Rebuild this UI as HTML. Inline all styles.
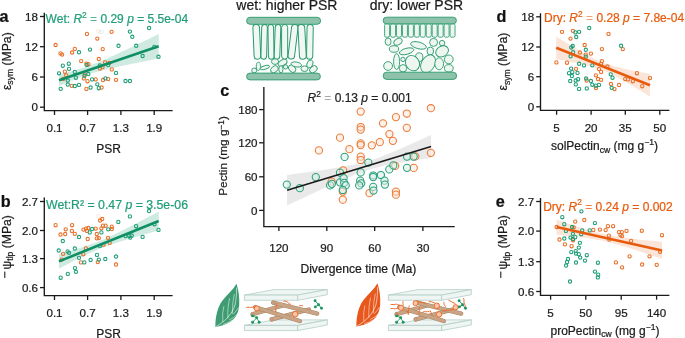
<!DOCTYPE html><html><head><meta charset="utf-8"><style>html,body{margin:0;padding:0;background:#fff;width:685px;height:338px;overflow:hidden}svg{display:block;will-change:transform}text{font-family:"Liberation Sans",sans-serif;stroke-width:0.22px;paint-order:stroke}</style></head><body>
<svg width="685" height="338" viewBox="0 0 685 338" font-family="Liberation Sans, sans-serif">
<rect width="685" height="338" fill="#fff"/>
<text x="-0.6" y="22" font-size="16.2" font-weight="bold" fill="#111" stroke="#111">a</text>
<text x="0.8" y="206.8" font-size="16.2" font-weight="bold" fill="#111" stroke="#111">b</text>
<text x="220.3" y="96.2" font-size="16.2" font-weight="bold" fill="#111" stroke="#111">c</text>
<text x="496.5" y="22" font-size="16.2" font-weight="bold" fill="#111" stroke="#111">d</text>
<text x="495.8" y="206.8" font-size="16.2" font-weight="bold" fill="#111" stroke="#111">e</text>
<path d="M59.00,74.37 L61.49,73.79 L63.98,73.19 L66.48,72.57 L68.97,71.93 L71.46,71.27 L73.95,70.58 L76.45,69.86 L78.94,69.12 L81.43,68.34 L83.92,67.52 L86.42,66.67 L88.91,65.79 L91.40,64.87 L93.89,63.91 L96.39,62.93 L98.88,61.92 L101.37,60.88 L103.86,59.82 L106.36,58.75 L108.85,57.65 L111.34,56.54 L113.83,55.42 L116.33,54.28 L118.82,53.14 L121.31,51.98 L123.80,50.82 L126.30,49.65 L128.79,48.48 L131.28,47.30 L133.77,46.12 L136.27,44.93 L138.76,43.74 L141.25,42.54 L143.75,41.34 L146.24,40.14 L148.73,38.94 L151.22,37.74 L153.71,36.53 L156.21,35.32 L158.70,34.11 L158.70,58.49 L156.21,58.97 L153.71,59.46 L151.22,59.95 L148.73,60.44 L146.24,60.93 L143.75,61.43 L141.25,61.92 L138.76,62.42 L136.27,62.93 L133.77,63.43 L131.28,63.94 L128.79,64.46 L126.30,64.98 L123.80,65.51 L121.31,66.04 L118.82,66.58 L116.33,67.13 L113.83,67.69 L111.34,68.26 L108.85,68.85 L106.36,69.45 L103.86,70.07 L101.37,70.70 L98.88,71.36 L96.39,72.04 L93.89,72.76 L91.40,73.50 L88.91,74.27 L86.42,75.08 L83.92,75.93 L81.43,76.81 L78.94,77.72 L76.45,78.67 L73.95,79.65 L71.46,80.66 L68.97,81.69 L66.48,82.75 L63.98,83.82 L61.49,84.92 L59.00,86.03Z" fill="#1f9e78" fill-opacity="0.22"/>
<circle cx="86.9" cy="33.9" r="1.65" fill="none" stroke="#e8702a" stroke-width="1.05"/>
<circle cx="111.6" cy="31.8" r="1.65" fill="none" stroke="#e8702a" stroke-width="1.05"/>
<circle cx="97.3" cy="38.6" r="1.65" fill="none" stroke="#e8702a" stroke-width="1.05"/>
<circle cx="55.6" cy="45" r="1.65" fill="none" stroke="#e8702a" stroke-width="1.05"/>
<circle cx="74.8" cy="48.9" r="1.65" fill="none" stroke="#e8702a" stroke-width="1.05"/>
<circle cx="72.1" cy="52.5" r="1.65" fill="none" stroke="#e8702a" stroke-width="1.05"/>
<circle cx="102.7" cy="49.1" r="1.65" fill="none" stroke="#e8702a" stroke-width="1.05"/>
<circle cx="60.5" cy="53.4" r="1.65" fill="none" stroke="#e8702a" stroke-width="1.05"/>
<circle cx="62.1" cy="54.6" r="1.65" fill="none" stroke="#e8702a" stroke-width="1.05"/>
<circle cx="98.8" cy="59" r="1.65" fill="none" stroke="#e8702a" stroke-width="1.05"/>
<circle cx="81.2" cy="61.1" r="1.65" fill="none" stroke="#e8702a" stroke-width="1.05"/>
<circle cx="86.4" cy="63.6" r="1.65" fill="none" stroke="#e8702a" stroke-width="1.05"/>
<circle cx="88.5" cy="64.2" r="1.65" fill="none" stroke="#e8702a" stroke-width="1.05"/>
<circle cx="64.9" cy="71.7" r="1.65" fill="none" stroke="#e8702a" stroke-width="1.05"/>
<circle cx="66.2" cy="75.3" r="1.65" fill="none" stroke="#e8702a" stroke-width="1.05"/>
<circle cx="99.9" cy="68.6" r="1.65" fill="none" stroke="#e8702a" stroke-width="1.05"/>
<circle cx="102.5" cy="67" r="1.65" fill="none" stroke="#e8702a" stroke-width="1.05"/>
<circle cx="105.1" cy="62.4" r="1.65" fill="none" stroke="#e8702a" stroke-width="1.05"/>
<circle cx="109.2" cy="62.9" r="1.65" fill="none" stroke="#e8702a" stroke-width="1.05"/>
<circle cx="111.8" cy="69.4" r="1.65" fill="none" stroke="#e8702a" stroke-width="1.05"/>
<circle cx="83.8" cy="78.4" r="1.65" fill="none" stroke="#e8702a" stroke-width="1.05"/>
<circle cx="84.9" cy="74.6" r="1.65" fill="none" stroke="#e8702a" stroke-width="1.05"/>
<circle cx="87.5" cy="81.2" r="1.65" fill="none" stroke="#e8702a" stroke-width="1.05"/>
<circle cx="95.7" cy="79.4" r="1.65" fill="none" stroke="#e8702a" stroke-width="1.05"/>
<circle cx="103" cy="80" r="1.65" fill="none" stroke="#e8702a" stroke-width="1.05"/>
<circle cx="108.2" cy="79.1" r="1.65" fill="none" stroke="#e8702a" stroke-width="1.05"/>
<circle cx="71.7" cy="85.8" r="1.65" fill="none" stroke="#e8702a" stroke-width="1.05"/>
<circle cx="101.6" cy="87.5" r="1.65" fill="none" stroke="#e8702a" stroke-width="1.05"/>
<circle cx="116" cy="79.8" r="1.65" fill="none" stroke="#e8702a" stroke-width="1.05"/>
<circle cx="86.4" cy="88.9" r="1.65" fill="none" stroke="#e8702a" stroke-width="1.05"/>
<circle cx="63.1" cy="78.9" r="1.65" fill="none" stroke="#e8702a" stroke-width="1.05"/>
<circle cx="79" cy="52.3" r="1.65" fill="none" stroke="#1f9e78" stroke-width="1.05"/>
<circle cx="90" cy="49.6" r="1.65" fill="none" stroke="#1f9e78" stroke-width="1.05"/>
<circle cx="129.9" cy="31.6" r="1.65" fill="none" stroke="#1f9e78" stroke-width="1.05"/>
<circle cx="149.1" cy="28" r="1.65" fill="none" stroke="#1f9e78" stroke-width="1.05"/>
<circle cx="132.3" cy="36.8" r="1.65" fill="none" stroke="#1f9e78" stroke-width="1.05"/>
<circle cx="118.5" cy="45.8" r="1.65" fill="none" stroke="#1f9e78" stroke-width="1.05"/>
<circle cx="136.2" cy="45.8" r="1.65" fill="none" stroke="#1f9e78" stroke-width="1.05"/>
<circle cx="154.3" cy="46.9" r="1.65" fill="none" stroke="#1f9e78" stroke-width="1.05"/>
<circle cx="142.6" cy="56" r="1.65" fill="none" stroke="#1f9e78" stroke-width="1.05"/>
<circle cx="158.5" cy="56.8" r="1.65" fill="none" stroke="#1f9e78" stroke-width="1.05"/>
<circle cx="86.7" cy="64.9" r="1.65" fill="none" stroke="#1f9e78" stroke-width="1.05"/>
<circle cx="62.8" cy="65.7" r="1.65" fill="none" stroke="#1f9e78" stroke-width="1.05"/>
<circle cx="68.8" cy="63.7" r="1.65" fill="none" stroke="#1f9e78" stroke-width="1.05"/>
<circle cx="69" cy="68.8" r="1.65" fill="none" stroke="#1f9e78" stroke-width="1.05"/>
<circle cx="59" cy="73.3" r="1.65" fill="none" stroke="#1f9e78" stroke-width="1.05"/>
<circle cx="74.8" cy="71.9" r="1.65" fill="none" stroke="#1f9e78" stroke-width="1.05"/>
<circle cx="75.9" cy="77.7" r="1.65" fill="none" stroke="#1f9e78" stroke-width="1.05"/>
<circle cx="99.9" cy="65.5" r="1.65" fill="none" stroke="#1f9e78" stroke-width="1.05"/>
<circle cx="108.2" cy="65" r="1.65" fill="none" stroke="#1f9e78" stroke-width="1.05"/>
<circle cx="84.4" cy="75.8" r="1.65" fill="none" stroke="#1f9e78" stroke-width="1.05"/>
<circle cx="88.3" cy="74" r="1.65" fill="none" stroke="#1f9e78" stroke-width="1.05"/>
<circle cx="92.1" cy="79.4" r="1.65" fill="none" stroke="#1f9e78" stroke-width="1.05"/>
<circle cx="105.4" cy="78.4" r="1.65" fill="none" stroke="#1f9e78" stroke-width="1.05"/>
<circle cx="67.8" cy="80.5" r="1.65" fill="none" stroke="#1f9e78" stroke-width="1.05"/>
<circle cx="67.8" cy="84.5" r="1.65" fill="none" stroke="#1f9e78" stroke-width="1.05"/>
<circle cx="74.8" cy="86" r="1.65" fill="none" stroke="#1f9e78" stroke-width="1.05"/>
<circle cx="79" cy="84.9" r="1.65" fill="none" stroke="#1f9e78" stroke-width="1.05"/>
<circle cx="97.3" cy="84.3" r="1.65" fill="none" stroke="#1f9e78" stroke-width="1.05"/>
<circle cx="90.6" cy="87.5" r="1.65" fill="none" stroke="#1f9e78" stroke-width="1.05"/>
<circle cx="60.7" cy="88.8" r="1.65" fill="none" stroke="#1f9e78" stroke-width="1.05"/>
<circle cx="98.8" cy="88.2" r="1.65" fill="none" stroke="#1f9e78" stroke-width="1.05"/>
<circle cx="116" cy="72.9" r="1.65" fill="none" stroke="#1f9e78" stroke-width="1.05"/>
<circle cx="125.5" cy="81" r="1.65" fill="none" stroke="#1f9e78" stroke-width="1.05"/>
<circle cx="129.9" cy="81" r="1.65" fill="none" stroke="#1f9e78" stroke-width="1.05"/>
<circle cx="98.3" cy="31.1" r="1.7" fill="none" stroke="#e8702a" stroke-opacity="0.12" stroke-width="1.2"/>
<circle cx="101.4" cy="32.1" r="1.7" fill="none" stroke="#1f9e78" stroke-opacity="0.12" stroke-width="1.2"/>
<path d="M59,80.2 L158.7,46.3" stroke="#0f8f64" stroke-width="2.6" stroke-linecap="butt"/>
<path d="M44.3,12.7 V110.55 H172.6" fill="none" stroke="#1a1a1a" stroke-width="1.35"/>
<path d="M40.0,16.5 H44.3" stroke="#1a1a1a" stroke-width="1.3"/>
<text x="38.0" y="20.7" text-anchor="end" font-size="11.6" fill="#1a1a1a" stroke="#1a1a1a">18</text>
<path d="M40.0,46.7 H44.3" stroke="#1a1a1a" stroke-width="1.3"/>
<text x="38.0" y="50.900000000000006" text-anchor="end" font-size="11.6" fill="#1a1a1a" stroke="#1a1a1a">12</text>
<path d="M40.0,77 H44.3" stroke="#1a1a1a" stroke-width="1.3"/>
<text x="38.0" y="81.2" text-anchor="end" font-size="11.6" fill="#1a1a1a" stroke="#1a1a1a">6</text>
<path d="M40.0,107.2 H44.3" stroke="#1a1a1a" stroke-width="1.3"/>
<text x="38.0" y="111.4" text-anchor="end" font-size="11.6" fill="#1a1a1a" stroke="#1a1a1a">0</text>
<path d="M54.5,110.55 V114.95" stroke="#1a1a1a" stroke-width="1.3"/>
<text x="54.5" y="131.75" text-anchor="middle" font-size="11.6" fill="#1a1a1a" stroke="#1a1a1a">0.1</text>
<path d="M87.6,110.55 V114.95" stroke="#1a1a1a" stroke-width="1.3"/>
<text x="87.6" y="131.75" text-anchor="middle" font-size="11.6" fill="#1a1a1a" stroke="#1a1a1a">0.7</text>
<path d="M120.9,110.55 V114.95" stroke="#1a1a1a" stroke-width="1.3"/>
<text x="120.9" y="131.75" text-anchor="middle" font-size="11.6" fill="#1a1a1a" stroke="#1a1a1a">1.3</text>
<path d="M154.2,110.55 V114.95" stroke="#1a1a1a" stroke-width="1.3"/>
<text x="154.2" y="131.75" text-anchor="middle" font-size="11.6" fill="#1a1a1a" stroke="#1a1a1a">1.9</text>
<text x="45.6" y="22.8" font-size="12" fill="#1f9e78" stroke="#1f9e78">Wet: <tspan font-style="italic">R</tspan><tspan font-size="8.4" dy="-5.2">2</tspan><tspan dy="5.2" fill-opacity="0.75" stroke-opacity="0.2"> = </tspan>0.29 <tspan font-style="italic">p</tspan> = 5.5e-04</text>
<text x="108.7" y="152.5" text-anchor="middle" font-size="12" fill="#1a1a1a" stroke="#1a1a1a">PSR</text>
<text transform="translate(10.5,61.2) rotate(-90)" text-anchor="middle" font-size="12.2" fill="#1a1a1a" stroke="#1a1a1a">ε<tspan font-size="8.6" dy="2.6">sym</tspan><tspan dy="-2.6"> (MPa)</tspan></text>
<path d="M59.00,254.18 L61.49,253.47 L63.98,252.76 L66.48,252.03 L68.97,251.30 L71.46,250.56 L73.95,249.81 L76.45,249.05 L78.94,248.27 L81.43,247.47 L83.92,246.66 L86.42,245.82 L88.91,244.96 L91.40,244.08 L93.89,243.16 L96.39,242.22 L98.88,241.24 L101.37,240.22 L103.86,239.18 L106.36,238.10 L108.85,236.99 L111.34,235.86 L113.83,234.69 L116.33,233.51 L118.82,232.30 L121.31,231.07 L123.80,229.83 L126.30,228.57 L128.79,227.30 L131.28,226.02 L133.77,224.73 L136.27,223.44 L138.76,222.13 L141.25,220.82 L143.75,219.50 L146.24,218.18 L148.73,216.85 L151.22,215.52 L153.71,214.19 L156.21,212.85 L158.70,211.51 L158.70,230.49 L156.21,231.17 L153.71,231.85 L151.22,232.54 L148.73,233.23 L146.24,233.92 L143.75,234.62 L141.25,235.32 L138.76,236.03 L136.27,236.74 L133.77,237.47 L131.28,238.20 L128.79,238.94 L126.30,239.69 L123.80,240.45 L121.31,241.23 L118.82,242.02 L116.33,242.83 L113.83,243.67 L111.34,244.52 L108.85,245.41 L106.36,246.32 L103.86,247.26 L101.37,248.24 L98.88,249.24 L96.39,250.28 L93.89,251.36 L91.40,252.46 L88.91,253.60 L86.42,254.76 L83.92,255.94 L81.43,257.15 L78.94,258.37 L76.45,259.61 L73.95,260.87 L71.46,262.14 L68.97,263.42 L66.48,264.71 L63.98,266.00 L61.49,267.31 L59.00,268.62Z" fill="#1f9e78" fill-opacity="0.22"/>
<circle cx="102.2" cy="219" r="1.65" fill="none" stroke="#e8702a" stroke-width="1.05"/>
<circle cx="100.1" cy="220.5" r="1.65" fill="none" stroke="#e8702a" stroke-width="1.05"/>
<circle cx="55.6" cy="225.2" r="1.65" fill="none" stroke="#e8702a" stroke-width="1.05"/>
<circle cx="72.1" cy="225.2" r="1.65" fill="none" stroke="#e8702a" stroke-width="1.05"/>
<circle cx="65.7" cy="229.3" r="1.65" fill="none" stroke="#e8702a" stroke-width="1.05"/>
<circle cx="60.5" cy="234.5" r="1.65" fill="none" stroke="#e8702a" stroke-width="1.05"/>
<circle cx="65.2" cy="234" r="1.65" fill="none" stroke="#e8702a" stroke-width="1.05"/>
<circle cx="71.9" cy="230.9" r="1.65" fill="none" stroke="#e8702a" stroke-width="1.05"/>
<circle cx="74.8" cy="233.8" r="1.65" fill="none" stroke="#e8702a" stroke-width="1.05"/>
<circle cx="83.5" cy="229.6" r="1.65" fill="none" stroke="#e8702a" stroke-width="1.05"/>
<circle cx="85.9" cy="228.6" r="1.65" fill="none" stroke="#e8702a" stroke-width="1.05"/>
<circle cx="88.3" cy="228" r="1.65" fill="none" stroke="#e8702a" stroke-width="1.05"/>
<circle cx="86.9" cy="230.9" r="1.65" fill="none" stroke="#e8702a" stroke-width="1.05"/>
<circle cx="95.7" cy="228.6" r="1.65" fill="none" stroke="#e8702a" stroke-width="1.05"/>
<circle cx="96.8" cy="234" r="1.65" fill="none" stroke="#e8702a" stroke-width="1.05"/>
<circle cx="101.4" cy="228.3" r="1.65" fill="none" stroke="#e8702a" stroke-width="1.05"/>
<circle cx="103" cy="225.7" r="1.65" fill="none" stroke="#e8702a" stroke-width="1.05"/>
<circle cx="105.6" cy="225.7" r="1.65" fill="none" stroke="#e8702a" stroke-width="1.05"/>
<circle cx="111.8" cy="226.7" r="1.65" fill="none" stroke="#e8702a" stroke-width="1.05"/>
<circle cx="111.8" cy="229" r="1.65" fill="none" stroke="#e8702a" stroke-width="1.05"/>
<circle cx="87.7" cy="239" r="1.65" fill="none" stroke="#e8702a" stroke-width="1.05"/>
<circle cx="96.8" cy="238.3" r="1.65" fill="none" stroke="#e8702a" stroke-width="1.05"/>
<circle cx="98.8" cy="238.1" r="1.65" fill="none" stroke="#e8702a" stroke-width="1.05"/>
<circle cx="108" cy="237.8" r="1.65" fill="none" stroke="#e8702a" stroke-width="1.05"/>
<circle cx="109.7" cy="242.8" r="1.65" fill="none" stroke="#e8702a" stroke-width="1.05"/>
<circle cx="103.5" cy="244.8" r="1.65" fill="none" stroke="#e8702a" stroke-width="1.05"/>
<circle cx="63.1" cy="253.8" r="1.65" fill="none" stroke="#e8702a" stroke-width="1.05"/>
<circle cx="85.9" cy="248.3" r="1.65" fill="none" stroke="#e8702a" stroke-width="1.05"/>
<circle cx="83.3" cy="254.2" r="1.65" fill="none" stroke="#e8702a" stroke-width="1.05"/>
<circle cx="61.6" cy="259.6" r="1.65" fill="none" stroke="#e8702a" stroke-width="1.05"/>
<circle cx="97.8" cy="262.1" r="1.65" fill="none" stroke="#e8702a" stroke-width="1.05"/>
<circle cx="81" cy="262.4" r="1.65" fill="none" stroke="#e8702a" stroke-width="1.05"/>
<circle cx="116" cy="264.5" r="1.65" fill="none" stroke="#e8702a" stroke-width="1.05"/>
<circle cx="79" cy="237" r="1.65" fill="none" stroke="#1f9e78" stroke-width="1.05"/>
<circle cx="92.1" cy="229" r="1.65" fill="none" stroke="#1f9e78" stroke-width="1.05"/>
<circle cx="89.7" cy="232.4" r="1.65" fill="none" stroke="#1f9e78" stroke-width="1.05"/>
<circle cx="101.4" cy="232.4" r="1.65" fill="none" stroke="#1f9e78" stroke-width="1.05"/>
<circle cx="108.2" cy="229.3" r="1.65" fill="none" stroke="#1f9e78" stroke-width="1.05"/>
<circle cx="149.1" cy="211" r="1.65" fill="none" stroke="#1f9e78" stroke-width="1.05"/>
<circle cx="129.9" cy="216.4" r="1.65" fill="none" stroke="#1f9e78" stroke-width="1.05"/>
<circle cx="118.3" cy="221.9" r="1.65" fill="none" stroke="#1f9e78" stroke-width="1.05"/>
<circle cx="136.1" cy="226.2" r="1.65" fill="none" stroke="#1f9e78" stroke-width="1.05"/>
<circle cx="154.5" cy="224.2" r="1.65" fill="none" stroke="#1f9e78" stroke-width="1.05"/>
<circle cx="158.5" cy="229.9" r="1.65" fill="none" stroke="#1f9e78" stroke-width="1.05"/>
<circle cx="142.6" cy="236.9" r="1.65" fill="none" stroke="#1f9e78" stroke-width="1.05"/>
<circle cx="129.2" cy="235.9" r="1.65" fill="none" stroke="#1f9e78" stroke-width="1.05"/>
<circle cx="131.7" cy="235.5" r="1.65" fill="none" stroke="#1f9e78" stroke-width="1.05"/>
<circle cx="125.5" cy="236.1" r="1.65" fill="none" stroke="#1f9e78" stroke-width="1.05"/>
<circle cx="130.2" cy="237.6" r="1.65" fill="none" stroke="#1f9e78" stroke-width="1.05"/>
<circle cx="62.8" cy="241" r="1.65" fill="none" stroke="#1f9e78" stroke-width="1.05"/>
<circle cx="99.9" cy="245.9" r="1.65" fill="none" stroke="#1f9e78" stroke-width="1.05"/>
<circle cx="58.7" cy="250.5" r="1.65" fill="none" stroke="#1f9e78" stroke-width="1.05"/>
<circle cx="67.6" cy="251.4" r="1.65" fill="none" stroke="#1f9e78" stroke-width="1.05"/>
<circle cx="69" cy="252.8" r="1.65" fill="none" stroke="#1f9e78" stroke-width="1.05"/>
<circle cx="74.8" cy="248.5" r="1.65" fill="none" stroke="#1f9e78" stroke-width="1.05"/>
<circle cx="79" cy="257.8" r="1.65" fill="none" stroke="#1f9e78" stroke-width="1.05"/>
<circle cx="90.6" cy="259.9" r="1.65" fill="none" stroke="#1f9e78" stroke-width="1.05"/>
<circle cx="97" cy="254.9" r="1.65" fill="none" stroke="#1f9e78" stroke-width="1.05"/>
<circle cx="98.8" cy="259.6" r="1.65" fill="none" stroke="#1f9e78" stroke-width="1.05"/>
<circle cx="105.3" cy="259" r="1.65" fill="none" stroke="#1f9e78" stroke-width="1.05"/>
<circle cx="84.3" cy="262.4" r="1.65" fill="none" stroke="#1f9e78" stroke-width="1.05"/>
<circle cx="75" cy="268.1" r="1.65" fill="none" stroke="#1f9e78" stroke-width="1.05"/>
<circle cx="116" cy="256.5" r="1.65" fill="none" stroke="#1f9e78" stroke-width="1.05"/>
<circle cx="75.9" cy="271.8" r="1.65" fill="none" stroke="#1f9e78" stroke-width="1.05"/>
<circle cx="67.8" cy="273.9" r="1.65" fill="none" stroke="#1f9e78" stroke-width="1.05"/>
<circle cx="60.7" cy="277.7" r="1.65" fill="none" stroke="#1f9e78" stroke-width="1.05"/>
<circle cx="98.3" cy="216.2" r="1.7" fill="none" stroke="#e8702a" stroke-opacity="0.12" stroke-width="1.2"/>
<path d="M59,261.4 L158.7,221.0" stroke="#0f8f64" stroke-width="2.6" stroke-linecap="butt"/>
<path d="M44.3,197.5 V295.6 H172.6" fill="none" stroke="#1a1a1a" stroke-width="1.35"/>
<path d="M40.0,201.5 H44.3" stroke="#1a1a1a" stroke-width="1.3"/>
<text x="38.0" y="205.7" text-anchor="end" font-size="11.6" fill="#1a1a1a" stroke="#1a1a1a">2.7</text>
<path d="M40.0,230.5 H44.3" stroke="#1a1a1a" stroke-width="1.3"/>
<text x="38.0" y="234.7" text-anchor="end" font-size="11.6" fill="#1a1a1a" stroke="#1a1a1a">2.0</text>
<path d="M40.0,258.6 H44.3" stroke="#1a1a1a" stroke-width="1.3"/>
<text x="38.0" y="262.8" text-anchor="end" font-size="11.6" fill="#1a1a1a" stroke="#1a1a1a">1.3</text>
<path d="M40.0,287.6 H44.3" stroke="#1a1a1a" stroke-width="1.3"/>
<text x="38.0" y="291.8" text-anchor="end" font-size="11.6" fill="#1a1a1a" stroke="#1a1a1a">0.6</text>
<path d="M54.5,295.6 V300.0" stroke="#1a1a1a" stroke-width="1.3"/>
<text x="54.5" y="316.8" text-anchor="middle" font-size="11.6" fill="#1a1a1a" stroke="#1a1a1a">0.1</text>
<path d="M87.6,295.6 V300.0" stroke="#1a1a1a" stroke-width="1.3"/>
<text x="87.6" y="316.8" text-anchor="middle" font-size="11.6" fill="#1a1a1a" stroke="#1a1a1a">0.7</text>
<path d="M120.9,295.6 V300.0" stroke="#1a1a1a" stroke-width="1.3"/>
<text x="120.9" y="316.8" text-anchor="middle" font-size="11.6" fill="#1a1a1a" stroke="#1a1a1a">1.3</text>
<path d="M154.2,295.6 V300.0" stroke="#1a1a1a" stroke-width="1.3"/>
<text x="154.2" y="316.8" text-anchor="middle" font-size="11.6" fill="#1a1a1a" stroke="#1a1a1a">1.9</text>
<text x="46.0" y="209" font-size="12.3" fill="#1f9e78" stroke="#1f9e78">Wet:R² = 0.47 <tspan font-style="italic">p</tspan> = 3.5e-06</text>
<text x="108.7" y="337.5" text-anchor="middle" font-size="12" fill="#1a1a1a" stroke="#1a1a1a">PSR</text>
<text transform="translate(10.5,246.8) rotate(-90)" text-anchor="middle" font-size="12.2" fill="#1a1a1a" stroke="#1a1a1a"><tspan dy="-1.9">−</tspan><tspan dy="1.9" font-size="7"> </tspan>ψ<tspan font-size="8.6" dy="2.6">tlp</tspan><tspan dy="-2.6"> (MPa)</tspan></text>
<path d="M556.20,36.60 L558.55,38.02 L560.89,39.44 L563.24,40.85 L565.58,42.27 L567.93,43.67 L570.27,45.07 L572.62,46.46 L574.96,47.84 L577.31,49.21 L579.65,50.57 L582.00,51.92 L584.34,53.24 L586.69,54.54 L589.03,55.81 L591.38,57.05 L593.72,58.25 L596.07,59.40 L598.41,60.50 L600.75,61.53 L603.10,62.50 L605.45,63.40 L607.79,64.23 L610.13,65.00 L612.48,65.71 L614.83,66.38 L617.17,67.01 L619.51,67.60 L621.86,68.17 L624.21,68.71 L626.55,69.24 L628.89,69.75 L631.24,70.25 L633.59,70.73 L635.93,71.21 L638.27,71.68 L640.62,72.15 L642.97,72.60 L645.31,73.06 L647.65,73.51 L650.00,73.96 L650.00,96.44 L647.65,95.02 L645.31,93.60 L642.97,92.19 L640.62,90.77 L638.27,89.37 L635.93,87.97 L633.59,86.58 L631.24,85.19 L628.89,83.82 L626.55,82.46 L624.21,81.12 L621.86,79.79 L619.51,78.49 L617.17,77.21 L614.83,75.97 L612.48,74.77 L610.13,73.61 L607.79,72.51 L605.45,71.47 L603.10,70.50 L600.75,69.60 L598.41,68.76 L596.07,67.99 L593.72,67.27 L591.38,66.60 L589.03,65.97 L586.69,65.37 L584.34,64.80 L582.00,64.25 L579.65,63.73 L577.31,63.22 L574.96,62.72 L572.62,62.23 L570.27,61.75 L567.93,61.28 L565.58,60.81 L563.24,60.36 L560.89,59.90 L558.55,59.45 L556.20,59.00Z" fill="#e85a0c" fill-opacity="0.16"/>
<circle cx="562" cy="31.8" r="1.65" fill="none" stroke="#e8702a" stroke-width="1.05"/>
<circle cx="572.9" cy="30.8" r="1.65" fill="none" stroke="#e8702a" stroke-width="1.05"/>
<circle cx="608.5" cy="33.9" r="1.65" fill="none" stroke="#e8702a" stroke-width="1.05"/>
<circle cx="570.5" cy="38.6" r="1.65" fill="none" stroke="#e8702a" stroke-width="1.05"/>
<circle cx="584.7" cy="45" r="1.65" fill="none" stroke="#e8702a" stroke-width="1.05"/>
<circle cx="601.9" cy="49.1" r="1.65" fill="none" stroke="#e8702a" stroke-width="1.05"/>
<circle cx="579.9" cy="52.5" r="1.65" fill="none" stroke="#e8702a" stroke-width="1.05"/>
<circle cx="590.9" cy="53.6" r="1.65" fill="none" stroke="#e8702a" stroke-width="1.05"/>
<circle cx="585.7" cy="54.6" r="1.65" fill="none" stroke="#e8702a" stroke-width="1.05"/>
<circle cx="622.8" cy="49.1" r="1.65" fill="none" stroke="#e8702a" stroke-width="1.05"/>
<circle cx="556.4" cy="62.4" r="1.65" fill="none" stroke="#e8702a" stroke-width="1.05"/>
<circle cx="567" cy="62.7" r="1.65" fill="none" stroke="#e8702a" stroke-width="1.05"/>
<circle cx="601.9" cy="61.1" r="1.65" fill="none" stroke="#e8702a" stroke-width="1.05"/>
<circle cx="601.1" cy="63.9" r="1.65" fill="none" stroke="#e8702a" stroke-width="1.05"/>
<circle cx="607.5" cy="66.5" r="1.65" fill="none" stroke="#e8702a" stroke-width="1.05"/>
<circle cx="576" cy="68.8" r="1.65" fill="none" stroke="#e8702a" stroke-width="1.05"/>
<circle cx="599" cy="69.1" r="1.65" fill="none" stroke="#e8702a" stroke-width="1.05"/>
<circle cx="601.1" cy="71.9" r="1.65" fill="none" stroke="#e8702a" stroke-width="1.05"/>
<circle cx="595.9" cy="75.3" r="1.65" fill="none" stroke="#e8702a" stroke-width="1.05"/>
<circle cx="598" cy="79" r="1.65" fill="none" stroke="#e8702a" stroke-width="1.05"/>
<circle cx="601.1" cy="79.8" r="1.65" fill="none" stroke="#e8702a" stroke-width="1.05"/>
<circle cx="586.7" cy="80.5" r="1.65" fill="none" stroke="#e8702a" stroke-width="1.05"/>
<circle cx="595.9" cy="87.9" r="1.65" fill="none" stroke="#e8702a" stroke-width="1.05"/>
<circle cx="611" cy="84" r="1.65" fill="none" stroke="#e8702a" stroke-width="1.05"/>
<circle cx="619" cy="85" r="1.65" fill="none" stroke="#e8702a" stroke-width="1.05"/>
<circle cx="625.2" cy="79.1" r="1.65" fill="none" stroke="#e8702a" stroke-width="1.05"/>
<circle cx="628" cy="79.4" r="1.65" fill="none" stroke="#e8702a" stroke-width="1.05"/>
<circle cx="632.8" cy="81.2" r="1.65" fill="none" stroke="#e8702a" stroke-width="1.05"/>
<circle cx="636.9" cy="73.2" r="1.65" fill="none" stroke="#e8702a" stroke-width="1.05"/>
<circle cx="650" cy="78.1" r="1.65" fill="none" stroke="#e8702a" stroke-width="1.05"/>
<circle cx="642.2" cy="86.2" r="1.65" fill="none" stroke="#e8702a" stroke-width="1.05"/>
<circle cx="614.5" cy="89.1" r="1.65" fill="none" stroke="#e8702a" stroke-width="1.05"/>
<circle cx="575.4" cy="32.4" r="1.65" fill="none" stroke="#1f9e78" stroke-width="1.05"/>
<circle cx="579.1" cy="31.8" r="1.65" fill="none" stroke="#1f9e78" stroke-width="1.05"/>
<circle cx="576.2" cy="37" r="1.65" fill="none" stroke="#1f9e78" stroke-width="1.05"/>
<circle cx="589.2" cy="28" r="1.65" fill="none" stroke="#1f9e78" stroke-width="1.05"/>
<circle cx="572.7" cy="46" r="1.65" fill="none" stroke="#1f9e78" stroke-width="1.05"/>
<circle cx="571.3" cy="47.5" r="1.65" fill="none" stroke="#1f9e78" stroke-width="1.05"/>
<circle cx="585.8" cy="49.8" r="1.65" fill="none" stroke="#1f9e78" stroke-width="1.05"/>
<circle cx="573.1" cy="52.3" r="1.65" fill="none" stroke="#1f9e78" stroke-width="1.05"/>
<circle cx="585.8" cy="56.7" r="1.65" fill="none" stroke="#1f9e78" stroke-width="1.05"/>
<circle cx="570.6" cy="56.3" r="1.65" fill="none" stroke="#1f9e78" stroke-width="1.05"/>
<circle cx="621.1" cy="45.8" r="1.65" fill="none" stroke="#1f9e78" stroke-width="1.05"/>
<circle cx="579.1" cy="63.8" r="1.65" fill="none" stroke="#1f9e78" stroke-width="1.05"/>
<circle cx="584" cy="65.4" r="1.65" fill="none" stroke="#1f9e78" stroke-width="1.05"/>
<circle cx="592.3" cy="65.3" r="1.65" fill="none" stroke="#1f9e78" stroke-width="1.05"/>
<circle cx="571.1" cy="68.6" r="1.65" fill="none" stroke="#1f9e78" stroke-width="1.05"/>
<circle cx="569" cy="73.2" r="1.65" fill="none" stroke="#1f9e78" stroke-width="1.05"/>
<circle cx="572.3" cy="72.2" r="1.65" fill="none" stroke="#1f9e78" stroke-width="1.05"/>
<circle cx="571.9" cy="76" r="1.65" fill="none" stroke="#1f9e78" stroke-width="1.05"/>
<circle cx="577.5" cy="72.9" r="1.65" fill="none" stroke="#1f9e78" stroke-width="1.05"/>
<circle cx="586.1" cy="78.5" r="1.65" fill="none" stroke="#1f9e78" stroke-width="1.05"/>
<circle cx="590.9" cy="81" r="1.65" fill="none" stroke="#1f9e78" stroke-width="1.05"/>
<circle cx="570.2" cy="81" r="1.65" fill="none" stroke="#1f9e78" stroke-width="1.05"/>
<circle cx="575.7" cy="80.5" r="1.65" fill="none" stroke="#1f9e78" stroke-width="1.05"/>
<circle cx="578.1" cy="79.2" r="1.65" fill="none" stroke="#1f9e78" stroke-width="1.05"/>
<circle cx="575.8" cy="84.4" r="1.65" fill="none" stroke="#1f9e78" stroke-width="1.05"/>
<circle cx="592.3" cy="84.7" r="1.65" fill="none" stroke="#1f9e78" stroke-width="1.05"/>
<circle cx="599" cy="84.9" r="1.65" fill="none" stroke="#1f9e78" stroke-width="1.05"/>
<circle cx="595.9" cy="85.7" r="1.65" fill="none" stroke="#1f9e78" stroke-width="1.05"/>
<circle cx="579.1" cy="88.9" r="1.65" fill="none" stroke="#1f9e78" stroke-width="1.05"/>
<circle cx="586.8" cy="88.4" r="1.65" fill="none" stroke="#1f9e78" stroke-width="1.05"/>
<circle cx="610.7" cy="74.3" r="1.65" fill="none" stroke="#1f9e78" stroke-width="1.05"/>
<circle cx="612.5" cy="77.7" r="1.65" fill="none" stroke="#1f9e78" stroke-width="1.05"/>
<circle cx="611.7" cy="87.8" r="1.65" fill="none" stroke="#1f9e78" stroke-width="1.05"/>
<path d="M556.2,47.8 L650,85.2" stroke="#e85a0c" stroke-width="2.6" stroke-linecap="butt"/>
<path d="M540.5,13.3 V110.35 H669.4" fill="none" stroke="#1a1a1a" stroke-width="1.35"/>
<path d="M536.2,16.8 H540.5" stroke="#1a1a1a" stroke-width="1.3"/>
<text x="534.2" y="21.0" text-anchor="end" font-size="11.6" fill="#1a1a1a" stroke="#1a1a1a">18</text>
<path d="M536.2,47 H540.5" stroke="#1a1a1a" stroke-width="1.3"/>
<text x="534.2" y="51.2" text-anchor="end" font-size="11.6" fill="#1a1a1a" stroke="#1a1a1a">12</text>
<path d="M536.2,76.7 H540.5" stroke="#1a1a1a" stroke-width="1.3"/>
<text x="534.2" y="80.9" text-anchor="end" font-size="11.6" fill="#1a1a1a" stroke="#1a1a1a">6</text>
<path d="M536.2,106.8 H540.5" stroke="#1a1a1a" stroke-width="1.3"/>
<text x="534.2" y="111.0" text-anchor="end" font-size="11.6" fill="#1a1a1a" stroke="#1a1a1a">0</text>
<path d="M556.6,110.35 V114.75" stroke="#1a1a1a" stroke-width="1.3"/>
<text x="556.6" y="131.54999999999998" text-anchor="middle" font-size="11.6" fill="#1a1a1a" stroke="#1a1a1a">5</text>
<path d="M591.1,110.35 V114.75" stroke="#1a1a1a" stroke-width="1.3"/>
<text x="591.1" y="131.54999999999998" text-anchor="middle" font-size="11.6" fill="#1a1a1a" stroke="#1a1a1a">20</text>
<path d="M625.3,110.35 V114.75" stroke="#1a1a1a" stroke-width="1.3"/>
<text x="625.3" y="131.54999999999998" text-anchor="middle" font-size="11.6" fill="#1a1a1a" stroke="#1a1a1a">35</text>
<path d="M659.8,110.35 V114.75" stroke="#1a1a1a" stroke-width="1.3"/>
<text x="659.8" y="131.54999999999998" text-anchor="middle" font-size="11.6" fill="#1a1a1a" stroke="#1a1a1a">50</text>
<text x="544" y="21.8" font-size="12" fill="#e85a0c" stroke="#e85a0c">Dry: <tspan font-style="italic">R</tspan><tspan font-size="8.4" dy="-5.2">2</tspan><tspan dy="5.2" fill-opacity="0.55" stroke-opacity="0.1"> = </tspan>0.28 <tspan font-style="italic">p</tspan> = 7.8e-04</text>
<text x="551" y="150" font-size="12" fill="#1a1a1a" stroke="#1a1a1a">solPectin<tspan font-size="8.6" dy="2.6">cw</tspan><tspan dy="-2.6"> (mg g</tspan><tspan font-size="8.6" dy="-5">−1</tspan><tspan dy="5">)</tspan></text>
<text transform="translate(507.3,61.6) rotate(-90)" text-anchor="middle" font-size="12.2" fill="#1a1a1a" stroke="#1a1a1a">ε<tspan font-size="8.6" dy="2.6">sym</tspan><tspan dy="-2.6"> (MPa)</tspan></text>
<path d="M556.60,219.55 L559.24,220.45 L561.87,221.35 L564.50,222.25 L567.14,223.13 L569.77,224.02 L572.41,224.89 L575.05,225.76 L577.68,226.61 L580.32,227.45 L582.95,228.28 L585.59,229.10 L588.22,229.89 L590.86,230.66 L593.49,231.41 L596.12,232.13 L598.76,232.82 L601.39,233.47 L604.03,234.08 L606.66,234.66 L609.30,235.20 L611.94,235.70 L614.57,236.17 L617.21,236.61 L619.84,237.02 L622.48,237.41 L625.11,237.78 L627.75,238.12 L630.38,238.45 L633.01,238.77 L635.65,239.08 L638.28,239.38 L640.92,239.67 L643.56,239.95 L646.19,240.22 L648.83,240.49 L651.46,240.76 L654.10,241.02 L656.73,241.28 L659.37,241.53 L662.00,241.78 L662.00,259.02 L659.37,258.11 L656.73,257.19 L654.10,256.29 L651.46,255.38 L648.83,254.48 L646.19,253.59 L643.56,252.70 L640.92,251.81 L638.28,250.94 L635.65,250.07 L633.01,249.21 L630.38,248.37 L627.75,247.53 L625.11,246.71 L622.48,245.91 L619.84,245.14 L617.21,244.38 L614.57,243.66 L611.94,242.96 L609.30,242.30 L606.66,241.68 L604.03,241.09 L601.39,240.54 L598.76,240.02 L596.12,239.55 L593.49,239.10 L590.86,238.68 L588.22,238.29 L585.59,237.92 L582.95,237.57 L580.32,237.23 L577.68,236.91 L575.05,236.60 L572.41,236.30 L569.77,236.01 L567.14,235.73 L564.50,235.45 L561.87,235.18 L559.24,234.91 L556.60,234.65Z" fill="#e85a0c" fill-opacity="0.16"/>
<circle cx="575.2" cy="221.6" r="1.65" fill="none" stroke="#e8702a" stroke-width="1.05"/>
<circle cx="584.3" cy="220" r="1.65" fill="none" stroke="#e8702a" stroke-width="1.05"/>
<circle cx="556.6" cy="227" r="1.65" fill="none" stroke="#e8702a" stroke-width="1.05"/>
<circle cx="573.7" cy="227.3" r="1.65" fill="none" stroke="#e8702a" stroke-width="1.05"/>
<circle cx="593.3" cy="229.9" r="1.65" fill="none" stroke="#e8702a" stroke-width="1.05"/>
<circle cx="599.9" cy="229.6" r="1.65" fill="none" stroke="#e8702a" stroke-width="1.05"/>
<circle cx="605.6" cy="230.1" r="1.65" fill="none" stroke="#e8702a" stroke-width="1.05"/>
<circle cx="607.9" cy="226.2" r="1.65" fill="none" stroke="#e8702a" stroke-width="1.05"/>
<circle cx="608.9" cy="235.6" r="1.65" fill="none" stroke="#e8702a" stroke-width="1.05"/>
<circle cx="559.5" cy="239.5" r="1.65" fill="none" stroke="#e8702a" stroke-width="1.05"/>
<circle cx="613.1" cy="226.2" r="1.65" fill="none" stroke="#e8702a" stroke-width="1.05"/>
<circle cx="619" cy="232.1" r="1.65" fill="none" stroke="#e8702a" stroke-width="1.05"/>
<circle cx="621.8" cy="232.1" r="1.65" fill="none" stroke="#e8702a" stroke-width="1.05"/>
<circle cx="626.5" cy="230.9" r="1.65" fill="none" stroke="#e8702a" stroke-width="1.05"/>
<circle cx="620.5" cy="235" r="1.65" fill="none" stroke="#e8702a" stroke-width="1.05"/>
<circle cx="622.1" cy="236.1" r="1.65" fill="none" stroke="#e8702a" stroke-width="1.05"/>
<circle cx="641.8" cy="230.7" r="1.65" fill="none" stroke="#e8702a" stroke-width="1.05"/>
<circle cx="662" cy="235.2" r="1.65" fill="none" stroke="#e8702a" stroke-width="1.05"/>
<circle cx="609.3" cy="239.5" r="1.65" fill="none" stroke="#e8702a" stroke-width="1.05"/>
<circle cx="631.1" cy="240.9" r="1.65" fill="none" stroke="#e8702a" stroke-width="1.05"/>
<circle cx="660.1" cy="251.7" r="1.65" fill="none" stroke="#e8702a" stroke-width="1.05"/>
<circle cx="629.6" cy="256.3" r="1.65" fill="none" stroke="#e8702a" stroke-width="1.05"/>
<circle cx="649.5" cy="256.3" r="1.65" fill="none" stroke="#e8702a" stroke-width="1.05"/>
<circle cx="615.9" cy="262.4" r="1.65" fill="none" stroke="#e8702a" stroke-width="1.05"/>
<circle cx="642.1" cy="264.5" r="1.65" fill="none" stroke="#e8702a" stroke-width="1.05"/>
<circle cx="656.7" cy="264.8" r="1.65" fill="none" stroke="#e8702a" stroke-width="1.05"/>
<circle cx="622.1" cy="267.4" r="1.65" fill="none" stroke="#e8702a" stroke-width="1.05"/>
<circle cx="573.1" cy="240.2" r="1.65" fill="none" stroke="#e8702a" stroke-width="1.05"/>
<circle cx="564.9" cy="244.3" r="1.65" fill="none" stroke="#e8702a" stroke-width="1.05"/>
<circle cx="571.6" cy="246.2" r="1.65" fill="none" stroke="#e8702a" stroke-width="1.05"/>
<circle cx="581.4" cy="211.3" r="1.65" fill="none" stroke="#1f9e78" stroke-width="1.05"/>
<circle cx="562.3" cy="217.2" r="1.65" fill="none" stroke="#1f9e78" stroke-width="1.05"/>
<circle cx="594.9" cy="223.1" r="1.65" fill="none" stroke="#1f9e78" stroke-width="1.05"/>
<circle cx="564.3" cy="224.2" r="1.65" fill="none" stroke="#1f9e78" stroke-width="1.05"/>
<circle cx="572.1" cy="227" r="1.65" fill="none" stroke="#1f9e78" stroke-width="1.05"/>
<circle cx="565.9" cy="230.9" r="1.65" fill="none" stroke="#1f9e78" stroke-width="1.05"/>
<circle cx="582.2" cy="230.4" r="1.65" fill="none" stroke="#1f9e78" stroke-width="1.05"/>
<circle cx="581.2" cy="234.2" r="1.65" fill="none" stroke="#1f9e78" stroke-width="1.05"/>
<circle cx="589.7" cy="230.4" r="1.65" fill="none" stroke="#1f9e78" stroke-width="1.05"/>
<circle cx="572.9" cy="233.8" r="1.65" fill="none" stroke="#1f9e78" stroke-width="1.05"/>
<circle cx="570.5" cy="237.6" r="1.65" fill="none" stroke="#1f9e78" stroke-width="1.05"/>
<circle cx="575.2" cy="237.2" r="1.65" fill="none" stroke="#1f9e78" stroke-width="1.05"/>
<circle cx="564.3" cy="238.5" r="1.65" fill="none" stroke="#1f9e78" stroke-width="1.05"/>
<circle cx="572.9" cy="239" r="1.65" fill="none" stroke="#1f9e78" stroke-width="1.05"/>
<circle cx="579.9" cy="242.8" r="1.65" fill="none" stroke="#1f9e78" stroke-width="1.05"/>
<circle cx="578.8" cy="247.6" r="1.65" fill="none" stroke="#1f9e78" stroke-width="1.05"/>
<circle cx="575.7" cy="251.1" r="1.65" fill="none" stroke="#1f9e78" stroke-width="1.05"/>
<circle cx="571.3" cy="252.1" r="1.65" fill="none" stroke="#1f9e78" stroke-width="1.05"/>
<circle cx="576" cy="253.6" r="1.65" fill="none" stroke="#1f9e78" stroke-width="1.05"/>
<circle cx="578.8" cy="254.2" r="1.65" fill="none" stroke="#1f9e78" stroke-width="1.05"/>
<circle cx="580.2" cy="257.6" r="1.65" fill="none" stroke="#1f9e78" stroke-width="1.05"/>
<circle cx="586.8" cy="255.2" r="1.65" fill="none" stroke="#1f9e78" stroke-width="1.05"/>
<circle cx="585" cy="260.6" r="1.65" fill="none" stroke="#1f9e78" stroke-width="1.05"/>
<circle cx="568" cy="259" r="1.65" fill="none" stroke="#1f9e78" stroke-width="1.05"/>
<circle cx="567.1" cy="262" r="1.65" fill="none" stroke="#1f9e78" stroke-width="1.05"/>
<circle cx="566.1" cy="265.5" r="1.65" fill="none" stroke="#1f9e78" stroke-width="1.05"/>
<circle cx="576" cy="262.5" r="1.65" fill="none" stroke="#1f9e78" stroke-width="1.05"/>
<circle cx="597.9" cy="262.7" r="1.65" fill="none" stroke="#1f9e78" stroke-width="1.05"/>
<circle cx="594.9" cy="271.6" r="1.65" fill="none" stroke="#1f9e78" stroke-width="1.05"/>
<circle cx="598.2" cy="274.7" r="1.65" fill="none" stroke="#1f9e78" stroke-width="1.05"/>
<circle cx="597.8" cy="277.4" r="1.65" fill="none" stroke="#1f9e78" stroke-width="1.05"/>
<circle cx="570" cy="281.5" r="1.65" fill="none" stroke="#1f9e78" stroke-width="1.05"/>
<path d="M556.6,227.1 L662,250.4" stroke="#e85a0c" stroke-width="2.6" stroke-linecap="butt"/>
<path d="M540.5,198 V295.3 H669.4" fill="none" stroke="#1a1a1a" stroke-width="1.35"/>
<path d="M536.2,201.5 H540.5" stroke="#1a1a1a" stroke-width="1.3"/>
<text x="534.2" y="205.7" text-anchor="end" font-size="11.6" fill="#1a1a1a" stroke="#1a1a1a">2.7</text>
<path d="M536.2,231.1 H540.5" stroke="#1a1a1a" stroke-width="1.3"/>
<text x="534.2" y="235.29999999999998" text-anchor="end" font-size="11.6" fill="#1a1a1a" stroke="#1a1a1a">2.0</text>
<path d="M536.2,261.7 H540.5" stroke="#1a1a1a" stroke-width="1.3"/>
<text x="534.2" y="265.9" text-anchor="end" font-size="11.6" fill="#1a1a1a" stroke="#1a1a1a">1.3</text>
<path d="M536.2,291.5 H540.5" stroke="#1a1a1a" stroke-width="1.3"/>
<text x="534.2" y="295.7" text-anchor="end" font-size="11.6" fill="#1a1a1a" stroke="#1a1a1a">0.6</text>
<path d="M550.6,295.3 V299.7" stroke="#1a1a1a" stroke-width="1.3"/>
<text x="550.6" y="316.5" text-anchor="middle" font-size="11.6" fill="#1a1a1a" stroke="#1a1a1a">5</text>
<path d="M585.8,295.3 V299.7" stroke="#1a1a1a" stroke-width="1.3"/>
<text x="585.8" y="316.5" text-anchor="middle" font-size="11.6" fill="#1a1a1a" stroke="#1a1a1a">50</text>
<path d="M621.2,295.3 V299.7" stroke="#1a1a1a" stroke-width="1.3"/>
<text x="621.2" y="316.5" text-anchor="middle" font-size="11.6" fill="#1a1a1a" stroke="#1a1a1a">95</text>
<path d="M656.6,295.3 V299.7" stroke="#1a1a1a" stroke-width="1.3"/>
<text x="656.6" y="316.5" text-anchor="middle" font-size="11.6" fill="#1a1a1a" stroke="#1a1a1a">140</text>
<text x="543.2" y="210.6" font-size="12" fill="#e85a0c" stroke="#e85a0c">Dry: <tspan font-style="italic">R</tspan><tspan font-size="8.4" dy="-5.2">2</tspan><tspan dy="5.2" fill-opacity="0.75" stroke-opacity="0.2"> = </tspan>0.24 <tspan font-style="italic">p</tspan> = 0.002</text>
<text x="550.5" y="334.5" font-size="12" fill="#1a1a1a" stroke="#1a1a1a">proPectin<tspan font-size="8.6" dy="2.6">cw</tspan><tspan dy="-2.6"> (mg g</tspan><tspan font-size="8.6" dy="-5">−1</tspan><tspan dy="5">)</tspan></text>
<text transform="translate(507.3,246.8) rotate(-90)" text-anchor="middle" font-size="12.2" fill="#1a1a1a" stroke="#1a1a1a"><tspan dy="-1.9">−</tspan><tspan dy="1.9" font-size="7"> </tspan>ψ<tspan font-size="8.6" dy="2.6">tlp</tspan><tspan dy="-2.6"> (MPa)</tspan></text>
<path d="M287.10,175.12 L290.70,174.62 L294.30,174.12 L297.90,173.62 L301.50,173.11 L305.10,172.60 L308.70,172.09 L312.30,171.57 L315.90,171.04 L319.50,170.51 L323.10,169.97 L326.70,169.42 L330.30,168.85 L333.90,168.28 L337.50,167.68 L341.10,167.07 L344.70,166.43 L348.30,165.76 L351.90,165.04 L355.50,164.28 L359.10,163.46 L362.70,162.57 L366.30,161.61 L369.90,160.56 L373.50,159.42 L377.10,158.19 L380.70,156.89 L384.30,155.52 L387.90,154.09 L391.50,152.61 L395.10,151.09 L398.70,149.54 L402.30,147.96 L405.90,146.36 L409.50,144.74 L413.10,143.11 L416.70,141.46 L420.30,139.81 L423.90,138.15 L427.50,136.48 L431.10,134.80 L431.10,158.00 L427.50,158.52 L423.90,159.04 L420.30,159.58 L416.70,160.12 L413.10,160.67 L409.50,161.23 L405.90,161.81 L402.30,162.40 L398.70,163.02 L395.10,163.66 L391.50,164.34 L387.90,165.05 L384.30,165.82 L380.70,166.64 L377.10,167.53 L373.50,168.50 L369.90,169.56 L366.30,170.70 L362.70,171.93 L359.10,173.24 L355.50,174.61 L351.90,176.05 L348.30,177.53 L344.70,179.05 L341.10,180.61 L337.50,182.19 L333.90,183.79 L330.30,185.41 L326.70,187.04 L323.10,188.68 L319.50,190.34 L315.90,192.00 L312.30,193.67 L308.70,195.34 L305.10,197.02 L301.50,198.71 L297.90,200.40 L294.30,202.09 L290.70,203.79 L287.10,205.48Z" fill="#9a9a9a" fill-opacity="0.22"/>
<circle cx="360.7" cy="111.6" r="3.6" fill="#fbe3d3" fill-opacity="0.5" stroke="#ec7a36" stroke-width="1.05"/>
<circle cx="360.7" cy="127" r="3.6" fill="#fbe3d3" fill-opacity="0.5" stroke="#ec7a36" stroke-width="1.05"/>
<circle cx="360.7" cy="129.6" r="3.6" fill="#fbe3d3" fill-opacity="0.5" stroke="#ec7a36" stroke-width="1.05"/>
<circle cx="340" cy="137.7" r="3.6" fill="#fbe3d3" fill-opacity="0.5" stroke="#ec7a36" stroke-width="1.05"/>
<circle cx="360.7" cy="143.4" r="3.6" fill="#fbe3d3" fill-opacity="0.5" stroke="#ec7a36" stroke-width="1.05"/>
<circle cx="360.7" cy="145.1" r="3.6" fill="#fbe3d3" fill-opacity="0.5" stroke="#ec7a36" stroke-width="1.05"/>
<circle cx="349.4" cy="149.2" r="3.6" fill="#fbe3d3" fill-opacity="0.5" stroke="#ec7a36" stroke-width="1.05"/>
<circle cx="371.8" cy="145.3" r="3.6" fill="#fbe3d3" fill-opacity="0.5" stroke="#ec7a36" stroke-width="1.05"/>
<circle cx="379.8" cy="142.2" r="3.6" fill="#fbe3d3" fill-opacity="0.5" stroke="#ec7a36" stroke-width="1.05"/>
<circle cx="389.4" cy="134.1" r="3.6" fill="#fbe3d3" fill-opacity="0.5" stroke="#ec7a36" stroke-width="1.05"/>
<circle cx="392.9" cy="140.8" r="3.6" fill="#fbe3d3" fill-opacity="0.5" stroke="#ec7a36" stroke-width="1.05"/>
<circle cx="383" cy="123.3" r="3.6" fill="#fbe3d3" fill-opacity="0.5" stroke="#ec7a36" stroke-width="1.05"/>
<circle cx="395.9" cy="117.1" r="3.6" fill="#fbe3d3" fill-opacity="0.5" stroke="#ec7a36" stroke-width="1.05"/>
<circle cx="406.8" cy="113.5" r="3.6" fill="#fbe3d3" fill-opacity="0.5" stroke="#ec7a36" stroke-width="1.05"/>
<circle cx="406.8" cy="127.8" r="3.6" fill="#fbe3d3" fill-opacity="0.5" stroke="#ec7a36" stroke-width="1.05"/>
<circle cx="430.9" cy="108.2" r="3.6" fill="#fbe3d3" fill-opacity="0.5" stroke="#ec7a36" stroke-width="1.05"/>
<circle cx="318.9" cy="150.4" r="3.6" fill="#fbe3d3" fill-opacity="0.5" stroke="#ec7a36" stroke-width="1.05"/>
<circle cx="360.7" cy="156.7" r="3.6" fill="#fbe3d3" fill-opacity="0.5" stroke="#ec7a36" stroke-width="1.05"/>
<circle cx="360.7" cy="160" r="3.6" fill="#fbe3d3" fill-opacity="0.5" stroke="#ec7a36" stroke-width="1.05"/>
<circle cx="331.6" cy="181.7" r="3.6" fill="#fbe3d3" fill-opacity="0.5" stroke="#ec7a36" stroke-width="1.05"/>
<circle cx="343.1" cy="170.4" r="3.6" fill="#fbe3d3" fill-opacity="0.5" stroke="#ec7a36" stroke-width="1.05"/>
<circle cx="342.8" cy="191.6" r="3.6" fill="#fbe3d3" fill-opacity="0.5" stroke="#ec7a36" stroke-width="1.05"/>
<circle cx="342.8" cy="199.7" r="3.6" fill="#fbe3d3" fill-opacity="0.5" stroke="#ec7a36" stroke-width="1.05"/>
<circle cx="369.5" cy="193.2" r="3.6" fill="#fbe3d3" fill-opacity="0.5" stroke="#ec7a36" stroke-width="1.05"/>
<circle cx="395.9" cy="191.6" r="3.6" fill="#fbe3d3" fill-opacity="0.5" stroke="#ec7a36" stroke-width="1.05"/>
<circle cx="395.9" cy="194.7" r="3.6" fill="#fbe3d3" fill-opacity="0.5" stroke="#ec7a36" stroke-width="1.05"/>
<circle cx="395.2" cy="165.9" r="3.6" fill="#fbe3d3" fill-opacity="0.5" stroke="#ec7a36" stroke-width="1.05"/>
<circle cx="413.7" cy="167.9" r="3.6" fill="#fbe3d3" fill-opacity="0.5" stroke="#ec7a36" stroke-width="1.05"/>
<circle cx="415.3" cy="156.4" r="3.6" fill="#fbe3d3" fill-opacity="0.5" stroke="#ec7a36" stroke-width="1.05"/>
<circle cx="430.9" cy="152.8" r="3.6" fill="#fbe3d3" fill-opacity="0.5" stroke="#ec7a36" stroke-width="1.05"/>
<circle cx="344.6" cy="156.9" r="3.6" fill="#d6ede5" fill-opacity="0.5" stroke="#2a9f7b" stroke-width="1.05"/>
<circle cx="368.3" cy="162.6" r="3.6" fill="#d6ede5" fill-opacity="0.5" stroke="#2a9f7b" stroke-width="1.05"/>
<circle cx="286.8" cy="184.6" r="3.6" fill="#d6ede5" fill-opacity="0.5" stroke="#2a9f7b" stroke-width="1.05"/>
<circle cx="299.8" cy="188.2" r="3.6" fill="#d6ede5" fill-opacity="0.5" stroke="#2a9f7b" stroke-width="1.05"/>
<circle cx="315.8" cy="177.1" r="3.6" fill="#d6ede5" fill-opacity="0.5" stroke="#2a9f7b" stroke-width="1.05"/>
<circle cx="330.1" cy="185.4" r="3.6" fill="#d6ede5" fill-opacity="0.5" stroke="#2a9f7b" stroke-width="1.05"/>
<circle cx="331.9" cy="183.8" r="3.6" fill="#d6ede5" fill-opacity="0.5" stroke="#2a9f7b" stroke-width="1.05"/>
<circle cx="340" cy="172.6" r="3.6" fill="#d6ede5" fill-opacity="0.5" stroke="#2a9f7b" stroke-width="1.05"/>
<circle cx="340" cy="182.3" r="3.6" fill="#d6ede5" fill-opacity="0.5" stroke="#2a9f7b" stroke-width="1.05"/>
<circle cx="343.6" cy="178.1" r="3.6" fill="#d6ede5" fill-opacity="0.5" stroke="#2a9f7b" stroke-width="1.05"/>
<circle cx="344.2" cy="182.8" r="3.6" fill="#d6ede5" fill-opacity="0.5" stroke="#2a9f7b" stroke-width="1.05"/>
<circle cx="345.7" cy="185.4" r="3.6" fill="#d6ede5" fill-opacity="0.5" stroke="#2a9f7b" stroke-width="1.05"/>
<circle cx="342.8" cy="190" r="3.6" fill="#d6ede5" fill-opacity="0.5" stroke="#2a9f7b" stroke-width="1.05"/>
<circle cx="360.7" cy="172.4" r="3.6" fill="#d6ede5" fill-opacity="0.5" stroke="#2a9f7b" stroke-width="1.05"/>
<circle cx="360.2" cy="180.7" r="3.6" fill="#d6ede5" fill-opacity="0.5" stroke="#2a9f7b" stroke-width="1.05"/>
<circle cx="361.2" cy="183.3" r="3.6" fill="#d6ede5" fill-opacity="0.5" stroke="#2a9f7b" stroke-width="1.05"/>
<circle cx="359.2" cy="185.4" r="3.6" fill="#d6ede5" fill-opacity="0.5" stroke="#2a9f7b" stroke-width="1.05"/>
<circle cx="373.2" cy="175.5" r="3.6" fill="#d6ede5" fill-opacity="0.5" stroke="#2a9f7b" stroke-width="1.05"/>
<circle cx="373.2" cy="177.1" r="3.6" fill="#d6ede5" fill-opacity="0.5" stroke="#2a9f7b" stroke-width="1.05"/>
<circle cx="380.9" cy="175" r="3.6" fill="#d6ede5" fill-opacity="0.5" stroke="#2a9f7b" stroke-width="1.05"/>
<circle cx="384.5" cy="180.7" r="3.6" fill="#d6ede5" fill-opacity="0.5" stroke="#2a9f7b" stroke-width="1.05"/>
<circle cx="384.9" cy="184.6" r="3.6" fill="#d6ede5" fill-opacity="0.5" stroke="#2a9f7b" stroke-width="1.05"/>
<circle cx="373.2" cy="186.9" r="3.6" fill="#d6ede5" fill-opacity="0.5" stroke="#2a9f7b" stroke-width="1.05"/>
<circle cx="373.5" cy="190.6" r="3.6" fill="#d6ede5" fill-opacity="0.5" stroke="#2a9f7b" stroke-width="1.05"/>
<circle cx="389.3" cy="169.4" r="3.6" fill="#d6ede5" fill-opacity="0.5" stroke="#2a9f7b" stroke-width="1.05"/>
<circle cx="393.3" cy="165.4" r="3.6" fill="#d6ede5" fill-opacity="0.5" stroke="#2a9f7b" stroke-width="1.05"/>
<circle cx="407" cy="156.6" r="3.6" fill="#d6ede5" fill-opacity="0.5" stroke="#2a9f7b" stroke-width="1.05"/>
<circle cx="413.7" cy="156.6" r="3.6" fill="#d6ede5" fill-opacity="0.5" stroke="#2a9f7b" stroke-width="1.05"/>
<circle cx="407" cy="167.8" r="3.6" fill="#d6ede5" fill-opacity="0.5" stroke="#2a9f7b" stroke-width="1.05"/>
<path d="M287.1,190.3 L431.1,146.4" stroke="#1a1a1a" stroke-width="1.6" stroke-linecap="butt"/>
<path d="M263.85,87.1 V226.6 H454.7" fill="none" stroke="#1a1a1a" stroke-width="1.35"/>
<path d="M259.15000000000003,109.6 H263.85" stroke="#1a1a1a" stroke-width="1.3"/>
<text x="257.55" y="113.8" text-anchor="end" font-size="11.6" fill="#1a1a1a" stroke="#1a1a1a">180</text>
<path d="M259.15000000000003,142.8 H263.85" stroke="#1a1a1a" stroke-width="1.3"/>
<text x="257.55" y="147.0" text-anchor="end" font-size="11.6" fill="#1a1a1a" stroke="#1a1a1a">120</text>
<path d="M259.15000000000003,176.8 H263.85" stroke="#1a1a1a" stroke-width="1.3"/>
<text x="257.55" y="181.0" text-anchor="end" font-size="11.6" fill="#1a1a1a" stroke="#1a1a1a">60</text>
<path d="M259.15000000000003,210.4 H263.85" stroke="#1a1a1a" stroke-width="1.3"/>
<text x="257.55" y="214.6" text-anchor="end" font-size="11.6" fill="#1a1a1a" stroke="#1a1a1a">0</text>
<path d="M278.9,226.6 V230.9" stroke="#1a1a1a" stroke-width="1.3"/>
<text x="278.9" y="251.9" text-anchor="middle" font-size="11.6" fill="#1a1a1a" stroke="#1a1a1a">120</text>
<path d="M326.8,226.6 V230.9" stroke="#1a1a1a" stroke-width="1.3"/>
<text x="326.8" y="251.9" text-anchor="middle" font-size="11.6" fill="#1a1a1a" stroke="#1a1a1a">90</text>
<path d="M374.7,226.6 V230.9" stroke="#1a1a1a" stroke-width="1.3"/>
<text x="374.7" y="251.9" text-anchor="middle" font-size="11.6" fill="#1a1a1a" stroke="#1a1a1a">60</text>
<path d="M422.9,226.6 V230.9" stroke="#1a1a1a" stroke-width="1.3"/>
<text x="422.9" y="251.9" text-anchor="middle" font-size="11.6" fill="#1a1a1a" stroke="#1a1a1a">30</text>
<text x="307.6" y="102" font-size="12" fill="#222" stroke="#222"><tspan font-style="italic">R</tspan><tspan font-size="8.4" dy="-5.2">2</tspan><tspan dy="5.2" fill="#aaa" stroke-opacity="0.3" stroke="#aaa"> = </tspan>0.13 <tspan font-style="italic">p</tspan> = 0.001</text>
<text x="358.4" y="273" text-anchor="middle" font-size="12.15" fill="#1a1a1a" stroke="#1a1a1a">Divergence time (Ma)</text>
<text transform="translate(227.2,155.9) rotate(-90)" text-anchor="middle" font-size="11.8" fill="#1a1a1a" stroke="#1a1a1a">Pectin (mg g<tspan font-size="8.4" dy="-3.6">−1</tspan><tspan dy="3.6">)</tspan></text>
<text x="236.3" y="9.6" font-size="14" fill="#1a1a1a" stroke="#1a1a1a">wet: higher PSR</text>
<text x="369.8" y="9.6" font-size="14" fill="#1a1a1a" stroke="#1a1a1a">dry: lower PSR</text>
<rect x="253.5" y="24.4" width="6.599999999999989" height="34.8" rx="3.2" fill="#eef6f2" fill-opacity="0.85" stroke="#289a6b" stroke-width="1.0" transform="rotate(-2.5,256.79999999999995,41.8)"/>
<rect x="261.3" y="24.4" width="5.700000000000012" height="34.8" rx="3.2" fill="#eef6f2" fill-opacity="0.85" stroke="#289a6b" stroke-width="1.0" transform="rotate(1.5,264.15,41.8)"/>
<rect x="268.2" y="24.4" width="5.600000000000046" height="34.8" rx="3.2" fill="#eef6f2" fill-opacity="0.85" stroke="#289a6b" stroke-width="1.0" transform="rotate(-1,271.0,41.8)"/>
<rect x="274.7" y="24.4" width="5.600000000000046" height="34.8" rx="3.2" fill="#eef6f2" fill-opacity="0.85" stroke="#289a6b" stroke-width="1.0" transform="rotate(2,277.5,41.8)"/>
<rect x="281.6" y="24.4" width="6.099999999999989" height="34.8" rx="3.2" fill="#eef6f2" fill-opacity="0.85" stroke="#289a6b" stroke-width="1.0" transform="rotate(0,284.65,41.8)"/>
<rect x="289.8" y="24.4" width="6.500000000000023" height="34.8" rx="3.2" fill="#eef6f2" fill-opacity="0.85" stroke="#289a6b" stroke-width="1.0" transform="rotate(7,293.05,41.8)"/>
<rect x="298.7" y="24.4" width="6.8000000000000345" height="34.8" rx="3.2" fill="#eef6f2" fill-opacity="0.85" stroke="#289a6b" stroke-width="1.0" transform="rotate(-3,302.1,41.8)"/>
<rect x="306.8" y="24.4" width="6.200000000000012" height="34.8" rx="3.2" fill="#eef6f2" fill-opacity="0.85" stroke="#289a6b" stroke-width="1.0" transform="rotate(1,309.9,41.8)"/>
<ellipse cx="254.2" cy="70.5" rx="2.48" ry="2.48" transform="rotate(0,254.2,70.5)" fill="#eef6f2" stroke="#289a6b" stroke-width="0.9"/>
<ellipse cx="258.4" cy="66.3" rx="2.12" ry="4.13" transform="rotate(0,258.4,66.3)" fill="#eef6f2" stroke="#289a6b" stroke-width="0.9"/>
<ellipse cx="264.9" cy="67.5" rx="4.84" ry="1.77" transform="rotate(-15,264.9,67.5)" fill="#eef6f2" stroke="#289a6b" stroke-width="0.9"/>
<ellipse cx="275" cy="61.6" rx="3.54" ry="2.83" transform="rotate(0,275,61.6)" fill="#eef6f2" stroke="#289a6b" stroke-width="0.9"/>
<ellipse cx="274.4" cy="69.3" rx="4.25" ry="3.07" transform="rotate(-40,274.4,69.3)" fill="#eef6f2" stroke="#289a6b" stroke-width="0.9"/>
<ellipse cx="282.6" cy="62.800000000000004" rx="4.84" ry="2.83" transform="rotate(-30,282.6,62.800000000000004)" fill="#eef6f2" stroke="#289a6b" stroke-width="0.9"/>
<ellipse cx="280.9" cy="69.3" rx="2.12" ry="3.54" transform="rotate(0,280.9,69.3)" fill="#eef6f2" stroke="#289a6b" stroke-width="0.9"/>
<ellipse cx="285.6" cy="66.89999999999999" rx="2.12" ry="2.12" transform="rotate(0,285.6,66.89999999999999)" fill="#eef6f2" stroke="#289a6b" stroke-width="0.9"/>
<ellipse cx="292.1" cy="68.69999999999999" rx="4.25" ry="3.07" transform="rotate(45,292.1,68.69999999999999)" fill="#eef6f2" stroke="#289a6b" stroke-width="0.9"/>
<ellipse cx="296.3" cy="64.5" rx="5.31" ry="2.48" transform="rotate(10,296.3,64.5)" fill="#eef6f2" stroke="#289a6b" stroke-width="0.9"/>
<ellipse cx="304.5" cy="68.69999999999999" rx="3.54" ry="2.83" transform="rotate(0,304.5,68.69999999999999)" fill="#eef6f2" stroke="#289a6b" stroke-width="0.9"/>
<ellipse cx="309.9" cy="63.9" rx="2.83" ry="4.13" transform="rotate(20,309.9,63.9)" fill="#eef6f2" stroke="#289a6b" stroke-width="0.9"/>
<ellipse cx="313.4" cy="69.3" rx="4.25" ry="3.07" transform="rotate(-40,313.4,69.3)" fill="#eef6f2" stroke="#289a6b" stroke-width="0.9"/>
<rect x="246.6" y="17.3" width="74" height="7" rx="3.5" fill="#8fc2ab" stroke="#289a6b" stroke-width="0.9"/>
<rect x="246.6" y="73.1" width="73.8" height="6.8" rx="3.4" fill="#8fc2ab" stroke="#289a6b" stroke-width="0.9"/>
<rect x="384.6" y="23.8" width="5.0" height="13.4" rx="1.6" fill="#eef6f2" stroke="#289a6b" stroke-width="0.85"/>
<rect x="390.55" y="23.8" width="5.0" height="13.4" rx="1.6" fill="#eef6f2" stroke="#289a6b" stroke-width="0.85"/>
<rect x="396.5" y="23.8" width="5.0" height="13.4" rx="1.6" fill="#eef6f2" stroke="#289a6b" stroke-width="0.85"/>
<rect x="402.45000000000005" y="23.8" width="5.0" height="13.4" rx="1.6" fill="#eef6f2" stroke="#289a6b" stroke-width="0.85"/>
<rect x="408.40000000000003" y="23.8" width="5.0" height="13.4" rx="1.6" fill="#eef6f2" stroke="#289a6b" stroke-width="0.85"/>
<rect x="414.35" y="23.8" width="5.0" height="13.4" rx="1.6" fill="#eef6f2" stroke="#289a6b" stroke-width="0.85"/>
<rect x="420.3" y="23.8" width="5.0" height="13.4" rx="1.6" fill="#eef6f2" stroke="#289a6b" stroke-width="0.85"/>
<rect x="426.25" y="23.8" width="5.0" height="13.4" rx="1.6" fill="#eef6f2" stroke="#289a6b" stroke-width="0.85"/>
<rect x="432.20000000000005" y="23.8" width="5.0" height="13.4" rx="1.6" fill="#eef6f2" stroke="#289a6b" stroke-width="0.85"/>
<rect x="438.15000000000003" y="23.8" width="5.0" height="13.4" rx="1.6" fill="#eef6f2" stroke="#289a6b" stroke-width="0.85"/>
<rect x="444.1" y="23.8" width="5.0" height="13.4" rx="1.6" fill="#eef6f2" stroke="#289a6b" stroke-width="0.85"/>
<rect x="450.05" y="23.8" width="5.0" height="13.4" rx="1.6" fill="#eef6f2" stroke="#289a6b" stroke-width="0.85"/>
<ellipse cx="388.1" cy="41.7" rx="3" ry="3.7" transform="rotate(0,388.1,41.7)" fill="#eef6f2" stroke="#289a6b" stroke-width="0.9"/>
<ellipse cx="398" cy="41.7" rx="4.4" ry="3" transform="rotate(-30,398,41.7)" fill="#eef6f2" stroke="#289a6b" stroke-width="0.9"/>
<ellipse cx="418.5" cy="45.4" rx="8" ry="3.3" transform="rotate(15,418.5,45.4)" fill="#eef6f2" stroke="#289a6b" stroke-width="0.9"/>
<ellipse cx="433.6" cy="42.4" rx="4" ry="4" transform="rotate(0,433.6,42.4)" fill="#eef6f2" stroke="#289a6b" stroke-width="0.9"/>
<ellipse cx="442.1" cy="43.1" rx="2.7" ry="2.7" transform="rotate(0,442.1,43.1)" fill="#eef6f2" stroke="#289a6b" stroke-width="0.9"/>
<ellipse cx="394" cy="49" rx="4.7" ry="3.3" transform="rotate(0,394,49)" fill="#eef6f2" stroke="#289a6b" stroke-width="0.9"/>
<ellipse cx="406.6" cy="51.3" rx="7.4" ry="3" transform="rotate(-15,406.6,51.3)" fill="#eef6f2" stroke="#289a6b" stroke-width="0.9"/>
<ellipse cx="430.3" cy="51" rx="3.3" ry="4" transform="rotate(0,430.3,51)" fill="#eef6f2" stroke="#289a6b" stroke-width="0.9"/>
<ellipse cx="442.1" cy="51.3" rx="6.7" ry="5.2" transform="rotate(-30,442.1,51.3)" fill="#eef6f2" stroke="#289a6b" stroke-width="0.9"/>
<ellipse cx="396.6" cy="61.6" rx="3" ry="8" transform="rotate(0,396.6,61.6)" fill="#eef6f2" stroke="#289a6b" stroke-width="0.9"/>
<ellipse cx="403" cy="59.4" rx="2.2" ry="2.2" transform="rotate(0,403,59.4)" fill="#eef6f2" stroke="#289a6b" stroke-width="0.9"/>
<ellipse cx="419.2" cy="57.2" rx="3.7" ry="4.4" transform="rotate(0,419.2,57.2)" fill="#eef6f2" stroke="#289a6b" stroke-width="0.9"/>
<ellipse cx="412.5" cy="63.1" rx="6.7" ry="8" transform="rotate(-30,412.5,63.1)" fill="#eef6f2" stroke="#289a6b" stroke-width="0.9"/>
<ellipse cx="428.1" cy="63.8" rx="6.7" ry="9.6" transform="rotate(30,428.1,63.8)" fill="#eef6f2" stroke="#289a6b" stroke-width="0.9"/>
<ellipse cx="439.2" cy="63.8" rx="4.4" ry="6" transform="rotate(0,439.2,63.8)" fill="#eef6f2" stroke="#289a6b" stroke-width="0.9"/>
<ellipse cx="448.8" cy="59.4" rx="4.4" ry="4.4" transform="rotate(0,448.8,59.4)" fill="#eef6f2" stroke="#289a6b" stroke-width="0.9"/>
<ellipse cx="388.1" cy="66" rx="4.4" ry="4.4" transform="rotate(0,388.1,66)" fill="#eef6f2" stroke="#289a6b" stroke-width="0.9"/>
<ellipse cx="403" cy="68.3" rx="3.7" ry="3.7" transform="rotate(0,403,68.3)" fill="#eef6f2" stroke="#289a6b" stroke-width="0.9"/>
<ellipse cx="448.8" cy="68.3" rx="4.4" ry="3.7" transform="rotate(0,448.8,68.3)" fill="#eef6f2" stroke="#289a6b" stroke-width="0.9"/>
<rect x="383.2" y="17.2" width="73.2" height="6.6" rx="3.3" fill="#8fc2ab" stroke="#289a6b" stroke-width="0.9"/>
<rect x="383.2" y="72.2" width="73.4" height="7.2" rx="3.5" fill="#8fc2ab" stroke="#289a6b" stroke-width="0.9"/>
<g transform="translate(0,0)">
<path d="M215.4,327 C215.2,317 217.5,307 222.5,300.5 C227,294.5 233,290 236.5,283.8 C238.6,290 239.6,298 239.2,305 C238.8,312 236,318 230.5,321.8 C226,324.8 220,326.5 215.4,327 Z" fill="#3e9b72"/>
<path d="M216.5,326.3 C224,322 232,315 235,305 C236.3,299 236.6,293 236.6,288" fill="none" stroke="#fff" stroke-opacity="0.85" stroke-linecap="round" stroke-width="0.7"/>
<path d="M222.8,321.5 Q222,313 223.8,306.5" fill="none" stroke="#fff" stroke-opacity="0.85" stroke-linecap="round" stroke-width="0.6"/>
<path d="M227.8,318.2 Q227.5,306 229.6,298.5" fill="none" stroke="#fff" stroke-opacity="0.85" stroke-linecap="round" stroke-width="0.6"/>
<path d="M232.3,313.5 Q232.3,302 234.2,294.5" fill="none" stroke="#fff" stroke-opacity="0.85" stroke-linecap="round" stroke-width="0.6"/>
<path d="M223.5,324.2 Q228,323 232.5,320.2" fill="none" stroke="#fff" stroke-opacity="0.85" stroke-linecap="round" stroke-width="0.6"/>
<path d="M229.5,319.8 Q234,318 237.2,314.5" fill="none" stroke="#fff" stroke-opacity="0.85" stroke-linecap="round" stroke-width="0.6"/>
<path d="M233.5,314 Q236,311.5 238.3,308" fill="none" stroke="#fff" stroke-opacity="0.85" stroke-linecap="round" stroke-width="0.6"/>
</g>
<g transform="translate(141,-0.5)">
<path d="M215.4,327 C215.2,317 217.5,307 222.5,300.5 C227,294.5 233,290 236.5,283.8 C238.6,290 239.6,298 239.2,305 C238.8,312 236,318 230.5,321.8 C226,324.8 220,326.5 215.4,327 Z" fill="#e8581c"/>
<path d="M216.5,326.3 C224,322 232,315 235,305 C236.3,299 236.6,293 236.6,288" fill="none" stroke="#fff" stroke-opacity="0.85" stroke-linecap="round" stroke-width="0.7"/>
<path d="M222.8,321.5 Q222,313 223.8,306.5" fill="none" stroke="#fff" stroke-opacity="0.85" stroke-linecap="round" stroke-width="0.6"/>
<path d="M227.8,318.2 Q227.5,306 229.6,298.5" fill="none" stroke="#fff" stroke-opacity="0.85" stroke-linecap="round" stroke-width="0.6"/>
<path d="M232.3,313.5 Q232.3,302 234.2,294.5" fill="none" stroke="#fff" stroke-opacity="0.85" stroke-linecap="round" stroke-width="0.6"/>
<path d="M223.5,324.2 Q228,323 232.5,320.2" fill="none" stroke="#fff" stroke-opacity="0.85" stroke-linecap="round" stroke-width="0.6"/>
<path d="M229.5,319.8 Q234,318 237.2,314.5" fill="none" stroke="#fff" stroke-opacity="0.85" stroke-linecap="round" stroke-width="0.6"/>
<path d="M233.5,314 Q236,311.5 238.3,308" fill="none" stroke="#fff" stroke-opacity="0.85" stroke-linecap="round" stroke-width="0.6"/>
</g>
<g transform="translate(0,0)">
<path d="M244.4,295.1 L274,289.6 L327.3,289.6 L297.7,295.1 Z" fill="#eef5f3" stroke="#b3cec6" stroke-width="0.8" stroke-linejoin="round"/>
<path d="M244.4,295.1 L297.7,295.1 L297.7,300.3 L244.4,300.3 Z" fill="#eef5f3" stroke="#b3cec6" stroke-width="0.8"/>
<path d="M297.7,295.1 L327.3,289.6 L327.3,294.7 L297.7,300.3 Z" fill="#eef5f3" stroke="#b3cec6" stroke-width="0.8" stroke-linejoin="round"/>
</g>
<g transform="translate(0,30.3)">
<path d="M244.4,295.1 L274,289.6 L327.3,289.6 L297.7,295.1 Z" fill="#eef5f3" stroke="#b3cec6" stroke-width="0.8" stroke-linejoin="round"/>
<path d="M244.4,295.1 L297.7,295.1 L297.7,300.3 L244.4,300.3 Z" fill="#eef5f3" stroke="#b3cec6" stroke-width="0.8"/>
<path d="M297.7,295.1 L327.3,289.6 L327.3,294.7 L297.7,300.3 Z" fill="#eef5f3" stroke="#b3cec6" stroke-width="0.8" stroke-linejoin="round"/>
</g>
<path d="M252.5,314.2 L283,305.5" stroke="#a88666" stroke-width="4.3" stroke-linecap="round"/>
<path d="M252.5,314.2 L283,305.5" stroke="#c9a586" stroke-width="3.2" stroke-linecap="round"/>
<ellipse cx="252.5" cy="314.2" rx="1.5" ry="2.0" fill="#c9a586" stroke="#a88666" stroke-width="0.5"/>
<path d="M271.6,319.4 L309,309.5" stroke="#a88666" stroke-width="4.3" stroke-linecap="round"/>
<path d="M271.6,319.4 L309,309.5" stroke="#c9a586" stroke-width="3.2" stroke-linecap="round"/>
<ellipse cx="271.6" cy="319.4" rx="1.5" ry="2.0" fill="#c9a586" stroke="#a88666" stroke-width="0.5"/>
<path d="M273.2,302.6 L317.2,313.6" stroke="#a88666" stroke-width="4.3" stroke-linecap="round"/>
<path d="M273.2,302.6 L317.2,313.6" stroke="#c9a586" stroke-width="3.2" stroke-linecap="round"/>
<ellipse cx="273.2" cy="302.6" rx="1.5" ry="2.0" fill="#c9a586" stroke="#a88666" stroke-width="0.5"/>
<path d="M255.2,307.2 L299.8,321.0" stroke="#a88666" stroke-width="4.3" stroke-linecap="round"/>
<path d="M255.2,307.2 L299.8,321.0" stroke="#c9a586" stroke-width="3.2" stroke-linecap="round"/>
<ellipse cx="255.2" cy="307.2" rx="1.5" ry="2.0" fill="#c9a586" stroke="#a88666" stroke-width="0.5"/>
<path d="M246.5,307.5 c2,-1.2 3.5,0.6 5.5,-0.3 s2.5,1.2 4,0.8 s1.5,2 2.5,3" fill="none" stroke="#ee6a2a" stroke-width="1.0" stroke-linecap="round"/>
<path d="M276.8,303.3 c-1.4,1.6 0.8,2.6 -0.8,4.2 s0.8,2.8 -0.4,4.6" fill="none" stroke="#ee6a2a" stroke-width="1.0" stroke-linecap="round"/>
<path d="M283.8,301.2 c1.8,-0.8 3,0.6 4.2,1.4 s1.6,1.6 2.6,1.8" fill="none" stroke="#ee6a2a" stroke-width="1.0" stroke-linecap="round"/>
<path d="M299.6,305.8 c1.2,-0.2 2,-0.8 3,0" fill="none" stroke="#ee6a2a" stroke-width="1.0" stroke-linecap="round"/>
<circle cx="256.8" cy="308.4" r="2.5" fill="#f9c4a6" stroke="#ee6a2a" stroke-width="0.95"/>
<path d="M255.60000000000002,309.59999999999997 L258.0,307.2" stroke="#fbd3bd" stroke-width="0.7"/>
<circle cx="295.2" cy="314.2" r="2.8" fill="#f9c4a6" stroke="#ee6a2a" stroke-width="0.95"/>
<path d="M294.0,315.4 L296.4,313.0" stroke="#fbd3bd" stroke-width="0.7"/>
<path d="M252.6,315.9 L256.7,317.8 L252.6,322.3 M256.7,317.8 L259.2,322.3" fill="none" stroke="#1f9560" stroke-width="0.9"/>
<circle cx="252.6" cy="315.9" r="1.45" fill="#1f9560"/>
<circle cx="256.7" cy="317.8" r="1.45" fill="#1f9560"/>
<circle cx="252.6" cy="322.3" r="1.45" fill="#1f9560"/>
<circle cx="259.2" cy="322.3" r="1.45" fill="#1f9560"/>
<path d="M315.1,300.7 L318.6,304.8 L321.5,308.3 M318.6,304.8 L315.3,306.9" fill="none" stroke="#1f9560" stroke-width="0.9"/>
<circle cx="315.1" cy="300.7" r="1.45" fill="#1f9560"/>
<circle cx="318.6" cy="304.8" r="1.45" fill="#1f9560"/>
<circle cx="321.5" cy="308.3" r="1.45" fill="#1f9560"/>
<circle cx="315.3" cy="306.9" r="1.45" fill="#1f9560"/>
<g transform="translate(144,0)">
<path d="M244.4,295.1 L274,289.6 L327.3,289.6 L297.7,295.1 Z" fill="#eef5f3" stroke="#b3cec6" stroke-width="0.8" stroke-linejoin="round"/>
<path d="M244.4,295.1 L297.7,295.1 L297.7,300.3 L244.4,300.3 Z" fill="#eef5f3" stroke="#b3cec6" stroke-width="0.8"/>
<path d="M297.7,295.1 L327.3,289.6 L327.3,294.7 L297.7,300.3 Z" fill="#eef5f3" stroke="#b3cec6" stroke-width="0.8" stroke-linejoin="round"/>
</g>
<g transform="translate(144,30.3)">
<path d="M244.4,295.1 L274,289.6 L327.3,289.6 L297.7,295.1 Z" fill="#eef5f3" stroke="#b3cec6" stroke-width="0.8" stroke-linejoin="round"/>
<path d="M244.4,295.1 L297.7,295.1 L297.7,300.3 L244.4,300.3 Z" fill="#eef5f3" stroke="#b3cec6" stroke-width="0.8"/>
<path d="M297.7,295.1 L327.3,289.6 L327.3,294.7 L297.7,300.3 Z" fill="#eef5f3" stroke="#b3cec6" stroke-width="0.8" stroke-linejoin="round"/>
</g>
<path d="M396.5,314.2 L427,305.5" stroke="#a88666" stroke-width="4.3" stroke-linecap="round"/>
<path d="M396.5,314.2 L427,305.5" stroke="#c9a586" stroke-width="3.2" stroke-linecap="round"/>
<ellipse cx="396.5" cy="314.2" rx="1.5" ry="2.0" fill="#c9a586" stroke="#a88666" stroke-width="0.5"/>
<path d="M415.6,319.4 L453,309.5" stroke="#a88666" stroke-width="4.3" stroke-linecap="round"/>
<path d="M415.6,319.4 L453,309.5" stroke="#c9a586" stroke-width="3.2" stroke-linecap="round"/>
<ellipse cx="415.6" cy="319.4" rx="1.5" ry="2.0" fill="#c9a586" stroke="#a88666" stroke-width="0.5"/>
<path d="M417.2,302.6 L461.2,313.6" stroke="#a88666" stroke-width="4.3" stroke-linecap="round"/>
<path d="M417.2,302.6 L461.2,313.6" stroke="#c9a586" stroke-width="3.2" stroke-linecap="round"/>
<ellipse cx="417.2" cy="302.6" rx="1.5" ry="2.0" fill="#c9a586" stroke="#a88666" stroke-width="0.5"/>
<path d="M399.2,307.2 L443.8,321.0" stroke="#a88666" stroke-width="4.3" stroke-linecap="round"/>
<path d="M399.2,307.2 L443.8,321.0" stroke="#c9a586" stroke-width="3.2" stroke-linecap="round"/>
<ellipse cx="399.2" cy="307.2" rx="1.5" ry="2.0" fill="#c9a586" stroke="#a88666" stroke-width="0.5"/>
<path d="M390.8,304.6 c1.5,-1 3,0.8 4.5,-0.2 s2.5,1 4,0.6" fill="none" stroke="#ee6a2a" stroke-width="1.0" stroke-linecap="round"/>
<path d="M390.8,308.6 c2,-1 3.5,1 5.5,0 s2.5,1.2 4,0.8" fill="none" stroke="#ee6a2a" stroke-width="1.0" stroke-linecap="round"/>
<path d="M403,301.5 c-1,1.5 1,2.5 0,4" fill="none" stroke="#ee6a2a" stroke-width="1.0" stroke-linecap="round"/>
<path d="M409.2,305.8 c-1.2,1.6 0.8,2.6 -0.6,4.2 s0.8,2.8 -0.2,4.4" fill="none" stroke="#ee6a2a" stroke-width="1.0" stroke-linecap="round"/>
<path d="M417.5,301.8 c1.8,-0.8 3,0.8 4.5,0.6 s2,1.2 3.5,1" fill="none" stroke="#ee6a2a" stroke-width="1.0" stroke-linecap="round"/>
<path d="M419.6,307.6 c-1.2,1.6 0.8,2.6 -0.6,3.4 s0.8,2.4 0.4,3.2" fill="none" stroke="#ee6a2a" stroke-width="1.0" stroke-linecap="round"/>
<path d="M429,301.6 c1.8,-0.6 3.5,0.8 5.5,1.2" fill="none" stroke="#ee6a2a" stroke-width="1.0" stroke-linecap="round"/>
<path d="M430.2,310.9 c0.5,1.2 1.2,2.4 1.8,3.7" fill="none" stroke="#ee6a2a" stroke-width="1.0" stroke-linecap="round"/>
<path d="M443.8,302.2 c0.8,1.5 -0.8,2.5 1.9,4.3" fill="none" stroke="#ee6a2a" stroke-width="1.0" stroke-linecap="round"/>
<path d="M442.6,310.9 c3,-1.5 5,0.5 10,-1.3" fill="none" stroke="#ee6a2a" stroke-width="1.0" stroke-linecap="round"/>
<path d="M448.8,300.3 c1.5,0.5 3,2 6.2,3.1" fill="none" stroke="#ee6a2a" stroke-width="1.0" stroke-linecap="round"/>
<path d="M452.5,309.6 c3,-1 5,-2.8 8.7,-3.7" fill="none" stroke="#ee6a2a" stroke-width="1.0" stroke-linecap="round"/>
<path d="M463.7,298.5 c1,2 -0.5,4 1,6 s-0.5,2.5 1.5,3.9" fill="none" stroke="#ee6a2a" stroke-width="1.0" stroke-linecap="round"/>
<path d="M406.5,310.5 c1.5,1 0.5,2.5 2,3.5" fill="none" stroke="#ee6a2a" stroke-width="1.0" stroke-linecap="round"/>
<path d="M423,312 c2,-1.2 3.5,0.6 6,-0.6" fill="none" stroke="#ee6a2a" stroke-width="1.0" stroke-linecap="round"/>
<path d="M396,312.5 c1.5,0.8 1,2 2.5,2.5" fill="none" stroke="#ee6a2a" stroke-width="1.0" stroke-linecap="round"/>
<circle cx="401" cy="307.8" r="2.6" fill="#f9c4a6" stroke="#ee6a2a" stroke-width="0.95"/>
<path d="M399.8,309.0 L402.2,306.6" stroke="#fbd3bd" stroke-width="0.7"/>
<circle cx="415.5" cy="303.2" r="2.5" fill="#f9c4a6" stroke="#ee6a2a" stroke-width="0.95"/>
<path d="M414.3,304.4 L416.7,302.0" stroke="#fbd3bd" stroke-width="0.7"/>
<circle cx="436.8" cy="305.7" r="2.7" fill="#f9c4a6" stroke="#ee6a2a" stroke-width="0.95"/>
<path d="M435.6,306.9 L438.0,304.5" stroke="#fbd3bd" stroke-width="0.7"/>
<circle cx="439.1" cy="314.4" r="2.7" fill="#f9c4a6" stroke="#ee6a2a" stroke-width="0.95"/>
<path d="M437.90000000000003,315.59999999999997 L440.3,313.2" stroke="#fbd3bd" stroke-width="0.7"/>
<circle cx="455.6" cy="307.2" r="2.6" fill="#f9c4a6" stroke="#ee6a2a" stroke-width="0.95"/>
<path d="M454.40000000000003,308.4 L456.8,306.0" stroke="#fbd3bd" stroke-width="0.7"/>
<path d="M396.6,315.9 L400.7,317.8 L396.6,322.3 M400.7,317.8 L403.2,322.3" fill="none" stroke="#1f9560" stroke-width="0.9"/>
<circle cx="396.6" cy="315.9" r="1.45" fill="#1f9560"/>
<circle cx="400.7" cy="317.8" r="1.45" fill="#1f9560"/>
<circle cx="396.6" cy="322.3" r="1.45" fill="#1f9560"/>
<circle cx="403.2" cy="322.3" r="1.45" fill="#1f9560"/>
<path d="M459.1,300.7 L462.6,304.8 L465.5,308.3 M462.6,304.8 L459.3,306.9" fill="none" stroke="#1f9560" stroke-width="0.9"/>
<circle cx="459.1" cy="300.7" r="1.45" fill="#1f9560"/>
<circle cx="462.6" cy="304.8" r="1.45" fill="#1f9560"/>
<circle cx="465.5" cy="308.3" r="1.45" fill="#1f9560"/>
<circle cx="459.3" cy="306.9" r="1.45" fill="#1f9560"/>
</svg></body></html>
